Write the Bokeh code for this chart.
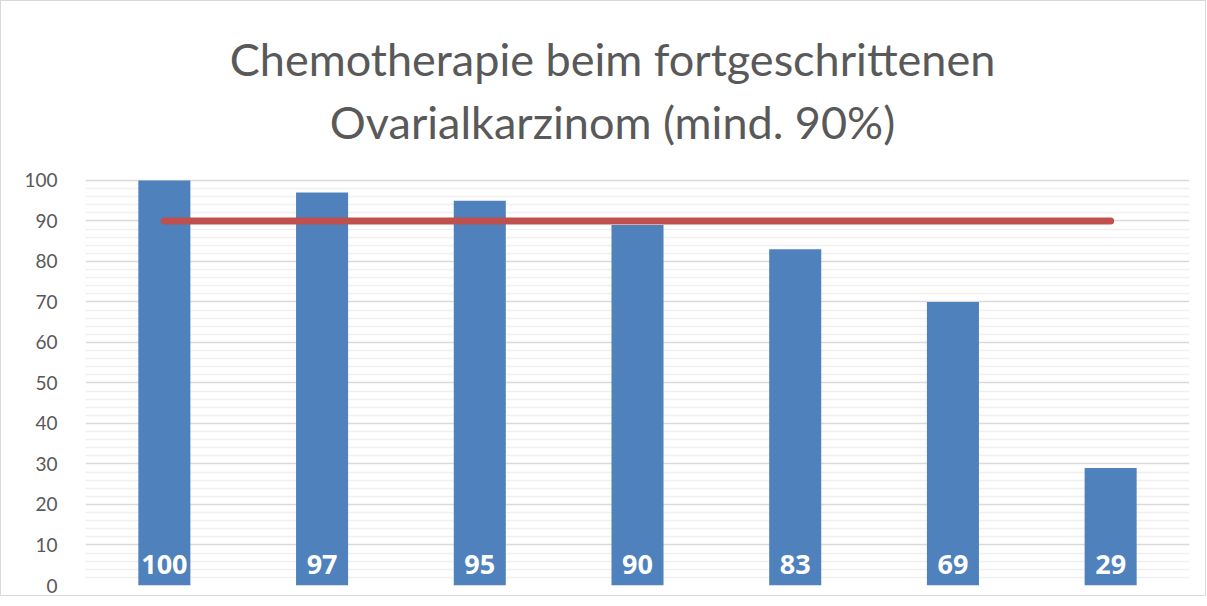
from bokeh.plotting import figure
from bokeh.models import (ColumnDataSource, LabelSet, FixedTicker, Range1d)
from bokeh.core.properties import value
from bokeh.embed import file_html
from bokeh.resources import INLINE

# ---- data ----
categories = ["1", "2", "3", "4", "5", "6", "7"]
bar_values = [100, 97, 95, 89, 83, 70, 29]
bar_labels = ["100", "97", "95", "90", "83", "69", "29"]
target = [90, 90, 90, 90, 90, 90, 90]
y_ticks = [0, 10, 20, 30, 40, 50, 60, 70, 80, 90, 100]
title_lines = ["Chemotherapie beim fortgeschrittenen", "Ovarialkarzinom (mind. 90%)"]

FONT = "Lato"
GREY = "#595959"

src = ColumnDataSource(dict(cat=categories, val=bar_values, lab=bar_labels,
                            tgt=target, base=[0] * len(categories)))

# frame extends above the value axis to host the two title lines
p = figure(x_range=categories, y_range=Range1d(0, 141.7), width=1206, height=596,
           output_backend="svg", toolbar_location=None,
           min_border_left=84, min_border_right=18, min_border_top=10,
           min_border_bottom=12)
p.title = None
p.outline_line_color = None
p.styles = {"border": "1px solid #D9D9D9"}

p.vbar(x="cat", top="val", width=0.33, source=src, color="#4F81BD", line_color=None)
p.line(x="cat", y="tgt", source=src, line_color="#C0504D", line_width=7,
       line_cap="round")

labels = LabelSet(x="cat", y="base", text="lab", source=src,
                  text_color=value("white"),
                  text_font=value("Open Sans"), text_font_style=value("bold"),
                  text_font_size=value("27px"),
                  text_align=value("center"), text_baseline=value("bottom"),
                  y_offset=12)
p.add_layout(labels)

# title
tsrc = ColumnDataSource(dict(x=["4", "4"], y=[130.0, 114.4], t=title_lines))
p.text(x="x", y="y", text="t", source=tsrc, x_offset=-25,
       text_align="center", text_baseline="alphabetic",
       text_font=value(FONT), text_font_size="45px", text_color=GREY)

p.xaxis.visible = False
p.xgrid.grid_line_color = None

minor = [v for v in range(0, 101, 2) if v % 10]
ticker = FixedTicker(ticks=y_ticks, minor_ticks=minor)
p.yaxis.ticker = ticker
p.ygrid.ticker = ticker
p.ygrid.grid_line_color = "#D9D9D9"
p.ygrid.grid_line_width = 1.5
p.ygrid.minor_grid_line_color = "#F0F0F0"
p.ygrid.minor_grid_line_width = 1.5
p.yaxis.axis_line_color = None
p.yaxis.major_tick_line_color = None
p.yaxis.minor_tick_line_color = None
p.yaxis.major_label_standoff = 22
p.yaxis.major_label_text_font = FONT
p.yaxis.major_label_text_font_size = "19px"
p.yaxis.major_label_text_color = GREY

open("out.html", "w").write(file_html(p, INLINE))
